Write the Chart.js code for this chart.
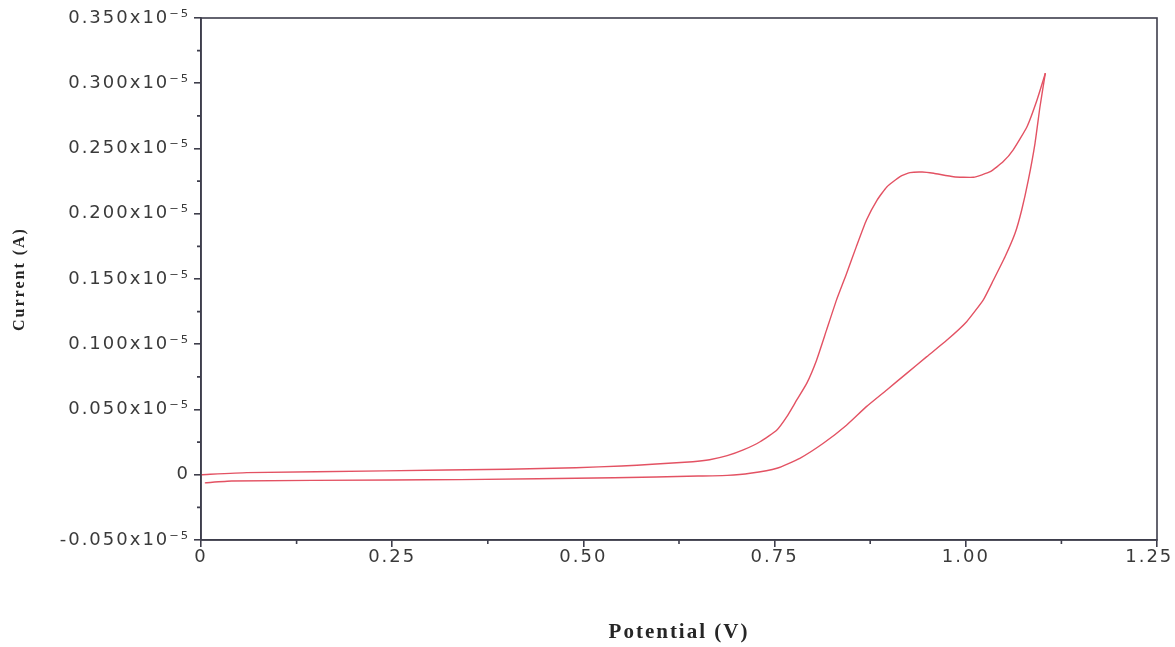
<!DOCTYPE html>
<html lang="en">
<head>
    <meta charset="UTF-8">
    <title>Cyclic voltammogram</title>
    <style>
        html, body { margin: 0; padding: 0; background: #fff; }
        #chart-container { width: 1175px; height: 647px; }
    </style>
</head>
<body>
    <div id="chart-container">
        <canvas id="cvChart"></canvas>
    </div>
    <script src="https://cdn.jsdelivr.net/npm/chart.js"></script>

    <script>
        // anodic sweep: potential (V) and current (x10^-5 A)
        const forwardPotential = [0, 0.06, 0.24, 0.40, 0.49, 0.55, 0.59, 0.643, 0.665, 0.688, 0.709, 0.731, 0.753, 0.766,
            0.779, 0.792, 0.805, 0.818, 0.831, 0.844, 0.857, 0.870, 0.884, 0.897, 0.914, 0.927, 0.943, 0.958, 0.984,
            1.010, 1.032, 1.049, 1.062, 1.080, 1.093, 1.104];
        const forwardCurrent = [0, 0.0016, 0.003, 0.0042, 0.0054, 0.0067, 0.008, 0.010, 0.0115, 0.0146, 0.019, 0.0253, 0.0343, 0.0445,
            0.0573, 0.070, 0.088, 0.111, 0.134, 0.154, 0.175, 0.195, 0.2105, 0.2207, 0.2284, 0.2315, 0.232, 0.231, 0.2284,
            0.228, 0.2322, 0.240, 0.249, 0.2667, 0.287, 0.3077];

        // return sweep back to 0 V
        const reversePotential = [1.104, 1.097, 1.0905, 1.0818, 1.0731, 1.0644, 1.0513, 1.036, 1.0229, 1.0011, 0.975, 0.949,
            0.9227, 0.8966, 0.870, 0.844, 0.8137, 0.783, 0.753, 0.718, 0.688, 0.650, 0.54, 0.34, 0.25, 0.04, 0.005];
        const reverseCurrent = [0.3077, 0.282, 0.254, 0.2259, 0.2029, 0.185, 0.167, 0.149, 0.134, 0.1173, 0.103, 0.0905,
            0.0777, 0.065, 0.0522, 0.038, 0.0241, 0.0126, 0.005, 0.0011, -0.0005, -0.001, -0.0023, -0.0037, -0.004, -0.0048, -0.0062];

        // axis ticks (last x label padded so it stays inside the canvas)
        const potentialTicks = [0, 0.25, 0.50, 0.75, 1.00, 1.25];
        const potentialLabels = ['0', '0.25', '0.50', '0.75', '1.00', '1.25\u00a0\u00a0'];
        const potentialMinor = [0.125, 0.375, 0.625, 0.875, 1.125];
        const currentTicks = [-0.05, 0, 0.05, 0.10, 0.15, 0.20, 0.25, 0.30, 0.35];
        const currentLabels = ['-0.050x10⁻⁵', '0', '0.050x10⁻⁵', '0.100x10⁻⁵', '0.150x10⁻⁵', '0.200x10⁻⁵',
            '0.250x10⁻⁵', '0.300x10⁻⁵', '0.350x10⁻⁵'];
        const currentMinor = [-0.025, 0.025, 0.075, 0.125, 0.175, 0.225, 0.275, 0.325];

        const axisColor = '#3e3e4c';
        const curveColor = '#e35263';

        const toPoints = (xs, ys) => xs.map((v, i) => ({ x: v, y: ys[i] }));

        // box around the plot, short minor ticks, wide letter spacing for the text
        const frameAndMinorTicks = {
            id: 'frameAndMinorTicks',
            beforeLayout(chart) { chart.ctx.letterSpacing = '2px'; },
            beforeDraw(chart) { chart.ctx.letterSpacing = '2px'; },
            afterDraw(chart) {
                const { ctx, chartArea: a, scales: { x, y } } = chart;
                ctx.save();
                ctx.strokeStyle = axisColor;
                ctx.lineWidth = 1.6;
                ctx.strokeRect(a.left, a.top, a.right - a.left, a.bottom - a.top);
                ctx.beginPath();
                potentialMinor.forEach(v => {
                    const px = x.getPixelForValue(v);
                    ctx.moveTo(px, a.bottom);
                    ctx.lineTo(px, a.bottom + 4);
                });
                currentMinor.forEach(v => {
                    const py = y.getPixelForValue(v);
                    ctx.moveTo(a.left - 4, py);
                    ctx.lineTo(a.left, py);
                });
                ctx.stroke();
                ctx.restore();
            }
        };

        const tickFont = { family: 'DejaVu Sans', size: 18 };

        new Chart(document.getElementById('cvChart'), {
            type: 'scatter',
            data: {
                datasets: [
                    {
                        label: 'forward',
                        data: toPoints(forwardPotential, forwardCurrent),
                        showLine: true,
                        borderColor: curveColor,
                        borderWidth: 1.4,
                        pointRadius: 0,
                        tension: 0.15
                    },
                    {
                        label: 'reverse',
                        data: toPoints(reversePotential, reverseCurrent),
                        showLine: true,
                        borderColor: curveColor,
                        borderWidth: 1.4,
                        pointRadius: 0,
                        tension: 0.15
                    }
                ]
            },
            options: {
                responsive: true,
                maintainAspectRatio: false,
                animation: false,
                layout: { padding: { top: 18, right: 18, left: 0, bottom: 0 } },
                plugins: {
                    legend: { display: false },
                    tooltip: { enabled: false }
                },
                scales: {
                    x: {
                        type: 'linear',
                        min: 0,
                        max: 1.25,
                        afterBuildTicks(scale) { scale.ticks = potentialTicks.map(v => ({ value: v })); },
                        afterFit(scale) {
                            scale.height = 107;
                            scale.paddingRight = 0;
                        },
                        ticks: {
                            callback: (v, i) => potentialLabels[i],
                            font: tickFont,
                            color: '#3a3a3a',
                            padding: 0,
                            maxRotation: 0
                        },
                        grid: { drawOnChartArea: false, tickLength: 7, color: axisColor, lineWidth: 1.6 },
                        border: { color: axisColor, width: 1.6 },
                        title: {
                            display: true,
                            text: 'Potential (V)',
                            font: { family: 'Liberation Serif', size: 21, weight: 'bold' },
                            color: '#262626',
                            padding: { top: 0, bottom: 2 }
                        }
                    },
                    y: {
                        min: -0.05,
                        max: 0.35,
                        afterBuildTicks(scale) { scale.ticks = currentTicks.map(v => ({ value: v })); },
                        afterFit(scale) { scale.width = 201; },
                        ticks: {
                            callback: (v, i) => currentLabels[i],
                            font: tickFont,
                            color: '#3a3a3a',
                            padding: 4
                        },
                        grid: { drawOnChartArea: false, tickLength: 7, color: axisColor, lineWidth: 1.6 },
                        border: { color: axisColor, width: 1.6 },
                        title: {
                            display: true,
                            text: 'Current (A)',
                            font: { family: 'Liberation Serif', size: 16, weight: 'bold' },
                            color: '#262626',
                            padding: { top: 10, bottom: 0 }
                        }
                    }
                }
            },
            plugins: [frameAndMinorTicks]
        });
    </script>
</body>
</html>
